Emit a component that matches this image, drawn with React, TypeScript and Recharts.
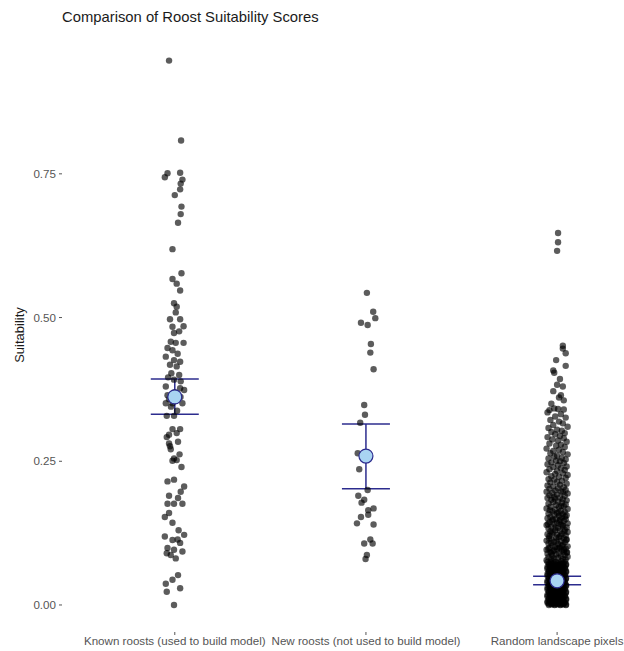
import React from 'react';
import { ScatterChart, Scatter, XAxis, YAxis, ErrorBar } from 'recharts';

const categories = [
  'Known roosts (used to build model)',
  'New roosts (not used to build model)',
  'Random landscape pixels',
];

// group means and interval bounds
const means = [0.362, 0.259, 0.042];
const ciLow = [0.332, 0.202, 0.035];
const ciHigh = [0.393, 0.315, 0.05];

const yTicks = [0, 0.25, 0.5, 0.75];

// [jitter, suitability]
const knownRoosts = [
  [-0.03, 0.947], [0.033, 0.808],
  [-0.038, 0.751], [-0.052, 0.744], [0.028, 0.752], [0.04, 0.74], [0.031, 0.733], [0.028, 0.723],
  [0.0, 0.713], [0.035, 0.693], [0.031, 0.68], [0.017, 0.665], [-0.012, 0.619], [0.035, 0.577],
  [-0.012, 0.567], [0.01, 0.559], [0.028, 0.547], [-0.004, 0.525], [0.01, 0.519], [0.005, 0.509],
  [-0.025, 0.497], [0.028, 0.497], [0.046, 0.485], [-0.012, 0.484], [0.023, 0.476], [-0.004, 0.473],
  [-0.021, 0.458], [0.005, 0.456], [0.046, 0.456], [-0.038, 0.447], [-0.012, 0.443], [0.015, 0.437],
  [-0.047, 0.432], [-0.004, 0.426], [0.028, 0.423], [-0.025, 0.418], [0.01, 0.415], [-0.018, 0.403],
  [0.023, 0.4], [-0.035, 0.396], [-0.004, 0.392], [0.031, 0.389], [-0.047, 0.38], [0.028, 0.377],
  [0.049, 0.374], [-0.038, 0.365], [0.0, 0.37], [0.02, 0.36], [-0.03, 0.358], [0.03, 0.362],
  [-0.047, 0.351], [-0.012, 0.351], [0.04, 0.351], [-0.02, 0.345], [0.012, 0.338], [-0.042, 0.329],
  [-0.004, 0.329], [-0.012, 0.306], [0.028, 0.306], [-0.03, 0.296], [0.01, 0.299], [-0.042, 0.292],
  [0.017, 0.284], [-0.03, 0.281], [-0.025, 0.276], [-0.021, 0.271], [0.025, 0.262], [-0.004, 0.255],
  [0.01, 0.252], [-0.012, 0.251], [0.035, 0.24], [-0.038, 0.215], [-0.004, 0.218], [0.049, 0.206],
  [0.031, 0.197], [-0.03, 0.19], [0.017, 0.186], [-0.038, 0.176], [-0.004, 0.176], [0.04, 0.176],
  [-0.03, 0.16], [-0.052, 0.153], [-0.012, 0.143], [0.02, 0.13], [0.049, 0.122], [-0.052, 0.119],
  [-0.012, 0.113], [0.015, 0.114], [0.028, 0.108], [-0.038, 0.099], [-0.004, 0.096], [0.04, 0.093],
  [-0.042, 0.09], [-0.021, 0.087], [0.005, 0.081], [0.017, 0.052], [-0.012, 0.044], [-0.047, 0.037],
  [0.028, 0.029], [-0.042, 0.023], [-0.004, 0.0],
];

const newRoosts = [
  [0.005, 0.543], [0.038, 0.51], [0.049, 0.499], [-0.026, 0.491], [0.009, 0.487], [0.026, 0.454],
  [0.023, 0.439], [0.04, 0.41], [-0.009, 0.348], [-0.005, 0.331], [-0.03, 0.317], [-0.043, 0.264],
  [-0.035, 0.236], [0.009, 0.2], [-0.04, 0.19], [-0.009, 0.183], [-0.023, 0.178], [0.012, 0.165],
  [0.04, 0.168], [0.012, 0.157], [-0.026, 0.153], [-0.047, 0.142], [0.04, 0.14], [-0.009, 0.107],
  [0.023, 0.114], [0.035, 0.107], [0.005, 0.087], [-0.002, 0.08],
];

const randomPixels = [
  [0.005, 0.647], [0.005, 0.631], [0.0, 0.616],
  [0.03, 0.451], [0.045, 0.438], [0.03, 0.446], [-0.005, 0.426], [0.045, 0.416], [-0.02, 0.408],
  [-0.015, 0.404], [0.015, 0.393], [0.0, 0.383], [0.03, 0.38], [-0.02, 0.372], [0.02, 0.365],
  [0.01, 0.361], [0.035, 0.356], [-0.04, 0.339], [-0.015, 0.342], [0.005, 0.341], [0.035, 0.34],
  [-0.03, 0.35],
  [-0.05, 0.335], [0.02, 0.332], [-0.01, 0.328], [0.045, 0.326], [-0.035, 0.322], [0.01, 0.319],
  [0.03, 0.316], [-0.02, 0.313], [0.055, 0.31], [-0.045, 0.308], [0.0, 0.305], [0.025, 0.303],
  [-0.03, 0.301], [0.04, 0.299], [-0.01, 0.297], [0.015, 0.294], [-0.05, 0.292], [0.035, 0.29],
  [-0.025, 0.288], [0.005, 0.286], [0.05, 0.284], [-0.04, 0.281], [0.02, 0.279], [-0.005, 0.277],
  [0.04, 0.275], [-0.055, 0.272], [0.01, 0.27], [-0.02, 0.268], [0.03, 0.266], [-0.035, 0.264],
  [0.055, 0.262], [0.0, 0.26], [-0.015, 0.258], [0.025, 0.256], [-0.045, 0.255], [0.045, 0.253],
  [-0.005, 0.251], [0.015, 0.25], [-0.03, 0.248], [0.035, 0.247], [-0.05, 0.245], [0.005, 0.243],
  [0.05, 0.241],
  [-0.02, 0.24], [0.02, 0.238], [-0.04, 0.236], [0.04, 0.235], [0.0, 0.233], [-0.055, 0.231],
  [0.03, 0.229], [-0.01, 0.228], [0.055, 0.226], [-0.03, 0.224], [0.01, 0.223], [0.045, 0.221],
  [-0.045, 0.219], [-0.015, 0.218], [0.025, 0.216], [0.0, 0.214], [-0.035, 0.213], [0.05, 0.211],
  [0.015, 0.209], [-0.05, 0.208], [-0.02, 0.206], [0.035, 0.205], [0.005, 0.203], [-0.04, 0.202],
  [0.045, 0.2], [-0.01, 0.199], [0.02, 0.198], [-0.055, 0.197], [0.03, 0.196], [-0.025, 0.195],
  [0.055, 0.194], [0.0, 0.192], [-0.04, 0.191], [0.04, 0.19], [-0.015, 0.188], [0.015, 0.187],
  [-0.05, 0.186], [0.03, 0.184], [-0.03, 0.183], [0.05, 0.182], [0.005, 0.18], [-0.02, 0.179],
  [0.025, 0.178], [-0.045, 0.176], [0.045, 0.175], [-0.005, 0.174], [0.035, 0.172], [-0.035, 0.171],
  [0.01, 0.17], [-0.055, 0.168], [0.055, 0.167], [-0.01, 0.166], [0.02, 0.164], [-0.025, 0.163],
  [0.04, 0.162], [0.0, 0.16], [-0.045, 0.159], [0.03, 0.158], [-0.015, 0.157], [0.05, 0.156],
  [0.01, 0.155], [-0.035, 0.153], [0.025, 0.152], [-0.05, 0.151], [-0.005, 0.15],
  [0.045, 0.149], [0.015, 0.148], [-0.025, 0.147], [0.035, 0.146], [-0.04, 0.144], [0.0, 0.143],
  [0.055, 0.142], [-0.015, 0.141], [0.02, 0.14], [-0.055, 0.139], [0.03, 0.137], [-0.03, 0.136],
  [0.05, 0.135], [0.005, 0.134], [-0.045, 0.133], [0.04, 0.131], [-0.01, 0.13], [0.015, 0.129],
  [-0.035, 0.128], [0.055, 0.127], [-0.02, 0.126], [0.025, 0.124], [-0.05, 0.123], [0.0, 0.122],
  [0.045, 0.121], [-0.04, 0.12], [0.01, 0.118], [-0.005, 0.117], [0.035, 0.116], [-0.03, 0.115],
  [0.05, 0.114], [-0.055, 0.112], [0.02, 0.111], [-0.015, 0.11], [0.04, 0.109], [-0.045, 0.107],
  [0.005, 0.106], [0.03, 0.105], [-0.025, 0.104], [0.055, 0.102],
  [-0.012, 0.185], [0.022, 0.172], [-0.038, 0.165], [0.008, 0.161], [0.042, 0.154], [-0.022, 0.149],
  [0.012, 0.145], [-0.048, 0.141], [0.028, 0.139], [-0.008, 0.135], [0.038, 0.128], [-0.028, 0.125],
  [0.018, 0.12], [-0.042, 0.116], [0.048, 0.113], [-0.002, 0.111], [-0.032, 0.108], [0.026, 0.103],
  [0.008, 0.1], [-0.046, 0.098], [0.036, 0.096], [-0.016, 0.095], [0.052, 0.092], [-0.03, 0.09],
  [-0.01, 0.101], [0.015, 0.1], [-0.04, 0.099], [0.045, 0.098], [0.0, 0.097], [-0.055, 0.096],
  [0.025, 0.095], [-0.02, 0.094], [0.035, 0.093], [-0.035, 0.092], [0.05, 0.091], [0.01, 0.09],
  [-0.05, 0.089], [-0.005, 0.088], [0.04, 0.087], [-0.025, 0.086], [0.02, 0.085], [0.055, 0.084],
  [-0.045, 0.083], [0.005, 0.082], [-0.015, 0.081], [0.03, 0.08], [-0.03, 0.08], [0.045, 0.079],
  [-0.055, 0.078],
  // the solid block near zero
  [-0.05, 0.075], [-0.034, 0.074], [-0.021, 0.076], [-0.006, 0.075], [0.011, 0.074], [0.024, 0.076], [0.04, 0.075],
  [-0.043, 0.072], [-0.027, 0.072], [-0.012, 0.071], [0.003, 0.072], [0.018, 0.071], [0.032, 0.072], [0.047, 0.071],
  [-0.043, 0.069], [-0.028, 0.07], [-0.012, 0.068], [0.003, 0.069], [0.017, 0.07], [0.032, 0.068], [0.046, 0.069],
  [-0.05, 0.066], [-0.035, 0.066], [-0.02, 0.065], [-0.005, 0.066], [0.01, 0.065], [0.025, 0.066], [0.04, 0.065],
  [-0.051, 0.063], [-0.036, 0.064], [-0.019, 0.062], [-0.004, 0.063], [0.009, 0.064], [0.026, 0.062], [0.041, 0.063],
  [-0.043, 0.06], [-0.028, 0.06], [-0.012, 0.059], [0.003, 0.06], [0.018, 0.059], [0.032, 0.06], [0.047, 0.059],
  [-0.044, 0.057], [-0.027, 0.058], [-0.013, 0.056], [0.002, 0.057], [0.018, 0.058], [0.031, 0.056], [0.047, 0.057],
  [-0.05, 0.054], [-0.035, 0.054], [-0.02, 0.053], [-0.005, 0.054], [0.01, 0.053], [0.025, 0.054], [0.04, 0.053],
  [-0.05, 0.051], [-0.035, 0.052], [-0.02, 0.05], [-0.005, 0.051], [0.01, 0.052], [0.025, 0.05], [0.04, 0.051],
  [-0.043, 0.048], [-0.028, 0.048], [-0.012, 0.047], [0.003, 0.048], [0.018, 0.047], [0.032, 0.048], [0.047, 0.047],
  [-0.043, 0.045], [-0.029, 0.046], [-0.013, 0.044], [0.002, 0.045], [0.016, 0.046], [0.032, 0.044], [0.046, 0.045],
  [-0.05, 0.042], [-0.035, 0.042], [-0.02, 0.041], [-0.005, 0.042], [0.01, 0.041], [0.025, 0.042], [0.04, 0.041],
  [-0.051, 0.039], [-0.035, 0.04], [-0.02, 0.038], [-0.006, 0.039], [0.01, 0.04], [0.024, 0.038], [0.04, 0.039],
  [-0.043, 0.036], [-0.028, 0.036], [-0.012, 0.035], [0.003, 0.036], [0.018, 0.035], [0.032, 0.036], [0.047, 0.035],
  [-0.044, 0.033], [-0.028, 0.034], [-0.012, 0.032], [0.003, 0.033], [0.017, 0.034], [0.032, 0.032], [0.047, 0.033],
  [-0.05, 0.03], [-0.035, 0.03], [-0.02, 0.029], [-0.005, 0.03], [0.01, 0.029], [0.025, 0.03], [0.04, 0.029],
  [-0.05, 0.027], [-0.035, 0.028], [-0.021, 0.026], [-0.005, 0.027], [0.011, 0.028], [0.025, 0.026], [0.04, 0.027],
  [-0.043, 0.024], [-0.028, 0.024], [-0.012, 0.023], [0.003, 0.024], [0.018, 0.023], [0.032, 0.024], [0.047, 0.023],
  [-0.043, 0.021], [-0.027, 0.022], [-0.013, 0.02], [0.002, 0.021], [0.018, 0.022], [0.031, 0.02], [0.046, 0.021],
  [-0.05, 0.018], [-0.035, 0.018], [-0.02, 0.017], [-0.005, 0.018], [0.01, 0.017], [0.025, 0.018], [0.04, 0.017],
  [-0.051, 0.015], [-0.036, 0.016], [-0.02, 0.014], [-0.004, 0.015], [0.01, 0.016], [0.025, 0.014], [0.041, 0.015],
  [-0.043, 0.012], [-0.028, 0.012], [-0.012, 0.011], [0.003, 0.012], [0.018, 0.011], [0.032, 0.012], [0.047, 0.011],
  [-0.044, 0.009], [-0.028, 0.01], [-0.012, 0.008], [0.003, 0.009], [0.017, 0.01], [0.032, 0.008], [0.047, 0.009],
  [-0.05, 0.006], [-0.035, 0.006], [-0.02, 0.005], [-0.005, 0.006], [0.01, 0.005], [0.025, 0.006], [0.04, 0.005],
  [-0.05, 0.004], [-0.035, 0.005], [-0.02, 0.003], [-0.005, 0.004], [0.01, 0.005], [0.024, 0.003], [0.04, 0.004],
  [-0.043, 0.002], [-0.028, 0.002], [-0.012, 0.001], [0.003, 0.002], [0.018, 0.001], [0.032, 0.002], [0.047, 0.001],
  [-0.043, 0.0], [-0.028, 0.001], [-0.013, 0.0], [0.002, 0.001], [0.017, 0.0], [0.031, 0.001], [0.046, 0.0],
];

const groups = [knownRoosts, newRoosts, randomPixels];

const pointData = groups.flatMap((pts, i) =>
  pts.map(([dx, v]) => ({ x: i + 1 + dx, y: v }))
);

const meanData = categories.map((c, i) => ({
  x: i + 1,
  y: means[i],
  err: [means[i] - ciLow[i], ciHigh[i] - means[i]],
}));

const FONT = '"Liberation Sans", Arial, Helvetica, sans-serif';
const NAVY = '#2c2c8e';

const Dot = (props: any) => (
  <circle cx={props.cx} cy={props.cy} r={3.2} fill="#000" fillOpacity={0.64} />
);

const MeanDot = (props: any) => (
  <circle cx={props.cx} cy={props.cy} r={7} fill="#a9d4f2" stroke={NAVY} strokeWidth={1.2} />
);

export default function App() {
  return (
    <div style={{ position: 'absolute', left: 0, top: 0, width: 624, height: 651, background: '#fff', fontFamily: FONT }}>
      <div style={{ position: 'absolute', left: 62, top: 9, fontSize: 14.8, color: '#1a1a1a', whiteSpace: 'nowrap' }}>
        Comparison of Roost Suitability Scores
      </div>
      <div
        style={{
          position: 'absolute',
          left: 19,
          top: 335,
          transform: 'translate(-50%, -50%) rotate(-90deg)',
          fontSize: 13,
          color: '#1a1a1a',
          whiteSpace: 'nowrap',
        }}
      >
        Suitability
      </div>
      <ScatterChart width={624} height={651} margin={{ top: 33, right: 0, bottom: 0, left: 0 }}>
        <XAxis
          type="number"
          dataKey="x"
          domain={[0.41, 3.35]}
          ticks={[1, 2, 3]}
          interval={0}
          allowDataOverflow
          height={19}
          axisLine={false}
          tickSize={3}
          tickMargin={2}
          tickLine={{ stroke: '#555' }}
          tick={{ fill: '#555', fontSize: 11.6, fontFamily: FONT }}
          tickFormatter={(v: number) => categories[Math.round(v) - 1]}
        />
        <YAxis
          type="number"
          dataKey="y"
          domain={[-0.047, 0.995]}
          ticks={yTicks}
          allowDataOverflow
          width={62}
          axisLine={false}
          tickSize={3}
          tickMargin={3}
          tickLine={{ stroke: '#555' }}
          tick={{ fill: '#555', fontSize: 11.6, fontFamily: FONT }}
          tickFormatter={(v: number) => v.toFixed(2)}
        />
        <Scatter data={pointData} shape={Dot} isAnimationActive={false} />
        <Scatter data={meanData} shape={MeanDot} isAnimationActive={false}>
          <ErrorBar dataKey="err" direction="y" width={24} stroke={NAVY} strokeWidth={1.5} />
        </Scatter>
      </ScatterChart>
    </div>
  );
}
